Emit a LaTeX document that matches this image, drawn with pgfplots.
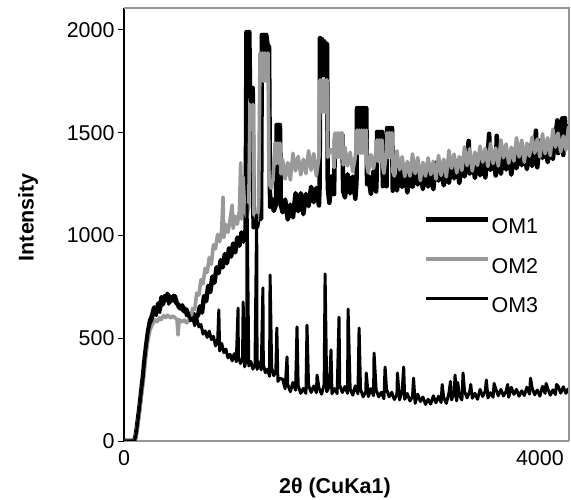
\documentclass[border=0pt]{standalone}
\usepackage{fontspec}
\setmainfont{Liberation Sans}
\usepackage{pgfplots}
\pgfplotsset{compat=1.18}
\definecolor{omgray}{RGB}{153,153,153}
\definecolor{framegray}{RGB}{150,150,150}
\begin{document}
\begin{tikzpicture}
\path[use as bounding box] (0,0) rectangle (571bp,500bp);
\begin{axis}[
  name=ax,
  at={(124bp,59bp)}, anchor=south west,
  scale only axis, width=445bp, height=433bp,
  xmin=0, xmax=4280, ymin=0, ymax=2107,
  axis x line*=bottom, axis y line*=left,
  x axis line style={framegray, line width=1.5bp},
  y axis line style={black, line width=1.2bp},
  xtick={0,4000}, ytick={0,500,1000,1500,2000},
  tick align=outside,
  major tick length=6bp,
  xtick style={draw=none},
  ytick style={black, line width=1bp},
  /pgf/number format/assume math mode=true,
  /pgf/number format/set thousands separator={},
  tick label style={font=\fontsize{21.5}{25}\selectfont},
  xlabel={\bfseries 2θ (CuKa1)},
  ylabel={\bfseries Intensity},
  label style={font=\fontsize{21.5}{25}\selectfont},
  xlabel style={at={(axis description cs:0.474,-0.1085)}, anchor=center},
  ylabel style={at={(axis description cs:-0.2157,0.517)}, anchor=center},
  legend style={draw=none, fill=none, at={(axis description cs:0.674,0.517)}, anchor=north west,
    font=\fontsize{21.5}{25}\selectfont, row sep=21bp, inner sep=0pt, nodes={inner sep=1bp}},
  legend cell align=left,
  legend image code/.code={\draw[#1] (0bp,7.5bp) -- (62bp,7.5bp);},
  line join=round,
]
% OM1
\addplot[black, line width=4.5bp, mark=none] coordinates {
(0,0) (100,0) (112,25) (125,70) (135,110) (150,170) (165,240) (183,320) (195,385) (212,460) (230,530) (250,585) (270,610) (290,650) (310,625) (330,670) (345,640) (360,700) (375,665) (390,705) (405,690) (420,715) (440,675) (455,700) (470,685) (490,705) (505,670) (520,665) (540,645) (560,660) (580,630) (600,640) (620,610) (645,605) (665,620) (690,600) (712,612)
(730,655) (750,625) (770,705) (790,680) (810,755) (830,725) (850,800) (870,770) (890,845) (910,817) (930,880) (950,845) (970,910) (990,865) (1010,938) (1030,897) (1050,961) (1070,918) (1090,990) (1110,950) (1130,1015) (1150,970) (1170,1030)
(1178,1990) (1188,1850) (1198,1990) (1205,1990) (1212,1718) (1225,1650) (1238,1718) (1246,1040) (1260,1090) (1280,1040) (1300,1110) (1318,1080)
(1326,1976) (1336,1850) (1346,1976) (1356,1850) (1368,1976) (1380,1930) (1395,1917) (1405,1140) (1420,1180) (1440,1120) (1462,1150)
(1468,1538) (1480,1450) (1490,1538) (1500,1538) (1508,1150)
(1525,1113) (1550,1175) (1575,1078) (1600,1150) (1625,1088) (1650,1206) (1675,1118) (1700,1206) (1725,1104) (1750,1202) (1775,1143) (1800,1237) (1825,1162) (1850,1231) (1875,1146)
(1882,1250) (1885,1961) (1895,1780) (1905,1955) (1915,1780) (1925,1945) (1935,1780) (1945,1935) (1953,1930) (1960,1230)
(1975,1159) (2000,1288) (2020,1201)
(2030,1490) (2045,1400) (2060,1490) (2075,1400) (2090,1490) (2100,1490) (2108,1215)
(2125,1185) (2150,1298) (2175,1205) (2200,1287) (2225,1179)
(2236,1260) (2241,1620) (2252,1500) (2263,1620) (2274,1500) (2285,1620) (2296,1500) (2307,1620) (2318,1500) (2330,1620) (2338,1250)
(2350,1290) (2375,1202) (2400,1313) (2425,1214)
(2430,1280) (2434,1504) (2446,1420) (2458,1504) (2470,1420) (2482,1504) (2490,1240)
(2500,1328) (2525,1239)
(2530,1523) (2542,1440) (2554,1523) (2566,1440) (2578,1523) (2585,1218)
(2600,1288) (2625,1219) (2650,1330) (2675,1236) (2700,1317) (2725,1209) (2750,1300) (2775,1236) (2800,1327) (2825,1248) (2850,1314) (2875,1226) (2900,1337) (2925,1238) (2950,1314) (2975,1225) (3000,1354) (3025,1267) (3050,1336) (3075,1244) (3100,1323) (3125,1256) (3150,1370) (3175,1278) (3200,1361) (3225,1255) (3250,1348) (3275,1287) (3300,1380) (3315,1460) (3325,1302) (3350,1368) (3375,1280) (3400,1391) (3425,1293) (3450,1369) (3475,1281) (3500,1408) (3512,1495) (3525,1319) (3550,1386) (3575,1292) (3585,1485) (3600,1369) (3625,1300) (3650,1413) (3675,1321) (3700,1404) (3725,1296) (3750,1389) (3775,1327) (3800,1420) (3825,1342) (3850,1410) (3875,1323) (3900,1436) (3925,1338) (3950,1416) (3962,1510) (3975,1332) (4000,1462) (4025,1377) (4050,1447) (4075,1357) (4100,1437) (4125,1372) (4150,1488) (4168,1560) (4175,1401) (4200,1492) (4215,1570) (4225,1392) (4240,1572) (4250,1493) (4275,1438) (4280,1540)
};
\addlegendentry{OM1}
% OM2
\addplot[omgray, line width=3.6bp, mark=none] coordinates {
(0,0) (100,0) (112,18) (125,55) (135,90) (150,145) (165,210) (183,280) (212,420) (230,490) (250,540) (270,565) (298,590) (320,580) (340,600) (356,590) (380,610) (400,600) (420,612) (450,598) (470,608) (491,600) (510,590) (520,516) (530,590) (560,580) (580,588) (600,575) (620,585) (645,600)
(660,645) (680,640) (700,720) (720,710) (740,785) (760,765) (780,840) (800,820) (820,892) (840,860) (860,955) (880,935) (900,1005) (920,970) (940,1028) (952,1187) (960,990) (980,1053) (1000,1015) (1020,1075) (1040,1148) (1050,1035) (1070,1093) (1090,1055) (1110,1118) (1122,1353) (1130,1080) (1145,1285) (1160,1130) (1180,1090) (1200,1138)
(1212,1635) (1222,1540) (1232,1635) (1245,1635) (1250,1100) (1265,1110) (1279,1070) (1295,1150)
(1308,1888) (1320,1750) (1332,1888) (1344,1750) (1356,1888) (1368,1750) (1385,1888) (1395,1255) (1415,1230) (1433,1270)
(1453,1450) (1465,1350) (1477,1450) (1489,1350) (1501,1450) (1508,1300)
(1525,1370) (1550,1275) (1575,1355) (1600,1270) (1625,1400) (1650,1315) (1675,1385) (1700,1295) (1725,1371) (1750,1302) (1775,1412) (1800,1318) (1825,1399) (1850,1290) (1875,1381)
(1885,1757) (1895,1600) (1905,1757) (1915,1600) (1925,1757) (1935,1600) (1945,1757) (1953,1757) (1960,1380)
(1981,1416) (2010,1416) (2020,1330)
(2030,1499) (2040,1380) (2050,1499) (2060,1380) (2070,1499) (2080,1380) (2090,1499) (2100,1499) (2108,1343)
(2125,1429) (2150,1339) (2175,1405) (2200,1311) (2225,1386)
(2241,1513) (2252,1400) (2263,1513) (2274,1400) (2285,1513) (2296,1400) (2307,1513) (2318,1400) (2330,1513) (2338,1334)
(2350,1305) (2375,1393) (2400,1326) (2425,1414)
(2434,1465) (2446,1360) (2458,1465) (2470,1360) (2482,1465) (2490,1330)
(2500,1303) (2525,1410)
(2530,1500) (2542,1380) (2554,1500) (2566,1380) (2578,1500) (2585,1313)
(2600,1289) (2625,1412) (2650,1320) (2675,1383) (2700,1287) (2725,1360) (2750,1289) (2775,1397) (2800,1301) (2825,1379) (2850,1267) (2875,1356) (2900,1289) (2925,1378) (2950,1296) (2975,1361) (3000,1275) (3025,1389) (3050,1292) (3075,1371) (3100,1285) (3125,1414) (3150,1327) (3175,1396) (3200,1305) (3225,1384) (3250,1317) (3275,1431) (3300,1340) (3325,1422) (3350,1314) (3375,1406) (3400,1341) (3425,1435) (3450,1357) (3475,1424) (3500,1336) (3525,1448) (3550,1350) (3575,1426) (3600,1338) (3625,1465) (3650,1378) (3675,1445) (3700,1352) (3725,1430) (3750,1362) (3775,1475) (3800,1382) (3825,1464) (3850,1357) (3875,1449) (3900,1386) (3925,1479) (3950,1401) (3975,1469) (4000,1382) (4025,1495) (4050,1398) (4075,1476) (4100,1389) (4125,1517) (4150,1430) (4175,1498) (4200,1406) (4225,1484) (4250,1416) (4275,1529) (4280,1450)
};
\addlegendentry{OM2}
% OM3
\addplot[black, line width=3bp, mark=none] coordinates {
(0,0) (60,0) (100,0) (112,20) (125,60) (135,100) (150,160) (165,230) (183,300) (195,370) (212,450) (230,520) (250,570) (270,590) (290,635) (310,610) (330,650) (345,625) (356,695) (370,660) (385,700) (400,680) (415,720) (430,665) (445,705) (460,690) (475,710) (491,675) (505,690) (520,650) (540,660) (560,635) (580,650) (600,610)
(620,623) (640,585) (660,600) (680,561) (700,599) (720,555) (740,567) (760,520) (780,536) (800,504) (820,535) (840,493) (860,510) (880,463) (900,477) (912,638) (920,438) (940,475) (960,430) (980,447) (1000,405) (1020,422) (1040,390) (1060,425) (1080,386) (1097,647) (1100,414) (1120,377) (1140,396) (1146,676) (1160,361) (1180,404) (1184,1150) (1200,365) (1220,387) (1240,350) (1260,373) (1276,1100) (1280,348) (1300,384) (1320,346) (1336,745) (1340,371) (1360,332) (1380,350) (1400,315) (1405,808) (1420,358) (1440,318) (1460,334) (1470,550) (1480,290) (1500,305)
(1525,301) (1550,254) (1568,409) (1575,275) (1600,240) (1625,285) (1650,247) (1664,555) (1675,269) (1700,232) (1725,256) (1750,232) (1760,564) (1775,271) (1800,236) (1825,268) (1850,235) (1857,321) (1875,258) (1900,228) (1925,275) (1934,813) (1950,240) (1975,264) (1991,443) (2000,230) (2025,255) (2050,231) (2068,603) (2075,271) (2100,236) (2125,265) (2150,232) (2155,642) (2175,254) (2200,223) (2225,268) (2250,230) (2261,550) (2275,252) (2300,215) (2325,239) (2330,331) (2350,216) (2375,255) (2400,220) (2405,428) (2425,249) (2450,215) (2475,237) (2500,206) (2511,360) (2525,252) (2550,215) (2575,237) (2600,202) (2625,225) (2630,331) (2650,200) (2675,239) (2690,360) (2700,203) (2725,231) (2750,195) (2775,216) (2785,306) (2800,183) (2825,228) (2850,192) (2875,214) (2900,178) (2925,203) (2950,180) (2975,220) (3000,186) (3025,218) (3050,187) (3060,275) (3075,211) (3100,183) (3125,233) (3140,290) (3150,200) (3175,227) (3184,321) (3200,195) (3210,285) (3225,222) (3250,200) (3261,331) (3275,242) (3300,210) (3325,241) (3335,275) (3350,208) (3375,232) (3400,203) (3425,251) (3450,217) (3475,243) (3485,297) (3500,210) (3525,235) (3550,213) (3560,280) (3575,253) (3600,220) (3625,251) (3650,219) (3675,242) (3690,275) (3700,213) (3725,261) (3750,227) (3775,251) (3800,218) (3825,244) (3850,221) (3875,262) (3900,228) (3910,306) (3925,258) (3950,225) (3975,248) (4000,218) (4025,266) (4050,232) (4060,280) (4075,256) (4100,223) (4125,249) (4150,226) (4160,275) (4175,267) (4200,233) (4225,264) (4250,232) (4275,256)
};
\addlegendentry{OM3}
\end{axis}
\draw[framegray, line width=1.5bp] (ax.north west) -- (ax.north east) -- (ax.south east);
\end{tikzpicture}
\end{document}
